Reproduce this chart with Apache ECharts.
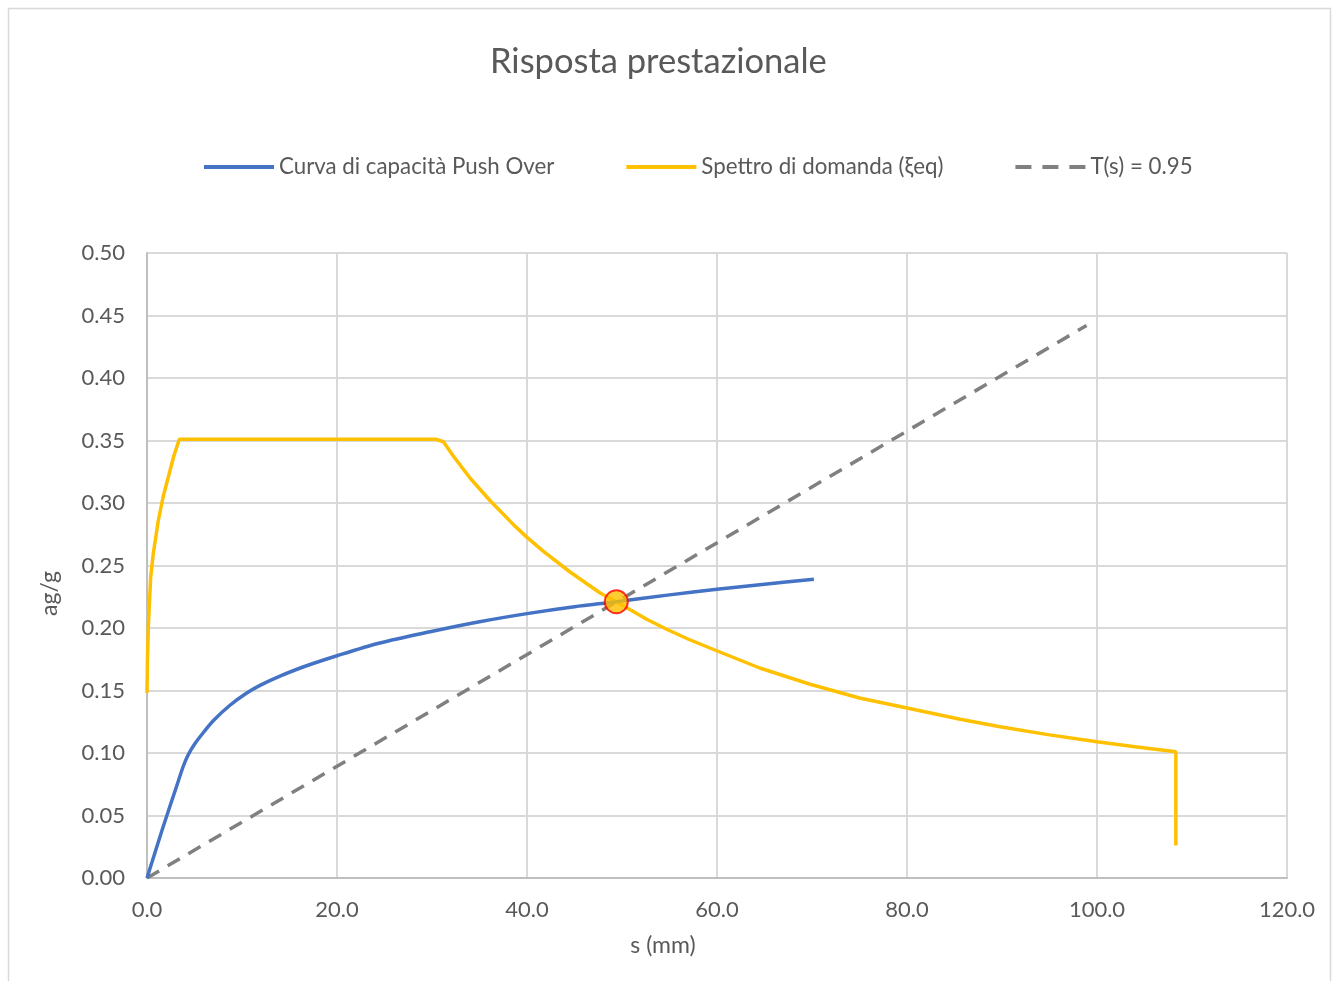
<!DOCTYPE html>
<html>
<head>
<meta charset="utf-8">
<style>
  html, body { margin: 0; padding: 0; background: #ffffff; }
  #chart { width: 1336px; height: 981px; }
</style>
<script src="https://cdn.jsdelivr.net/npm/echarts@6/dist/echarts.min.js"></script>
</head>
<body>
<div id="chart"></div>
<script>
// Capacity curve (push-over): [s (mm), ag/g]
const pushOver = [
  [0, 0], [1.7, 0.041], [3.1, 0.073], [3.8, 0.089], [4.3, 0.098], [5.0, 0.107],
  [6.0, 0.117], [7.0, 0.126], [8.7, 0.138], [10.5, 0.148], [12.0, 0.1545],
  [14.0, 0.1615], [16.5, 0.169], [20.0, 0.1778], [24.5, 0.188], [29.8, 0.197],
  [35.0, 0.205], [40.0, 0.2115], [45.0, 0.217], [49.4, 0.221], [55.0, 0.2265],
  [60.0, 0.231], [65.0, 0.235], [70.2, 0.239]
];

// Demand spectrum (ADRS, equivalent damping): [s (mm), ag/g]
const spettro = [
  [0, 0.148], [0.05, 0.175], [0.14, 0.201], [0.39, 0.241], [0.67, 0.260],
  [1.19, 0.286], [1.7, 0.305], [2.25, 0.321], [2.8, 0.337], [3.4, 0.351],
  [30.4, 0.351], [31.2, 0.349], [32.2, 0.338], [34.0, 0.320], [36.1, 0.302],
  [38.6, 0.2825], [40.0, 0.2725], [41.7, 0.2615], [44.5, 0.245], [47.7, 0.228],
  [49.4, 0.221], [52.6, 0.207], [54.7, 0.199], [57.0, 0.191], [59.9, 0.182],
  [64.5, 0.168], [69.8, 0.155], [75.0, 0.144], [80.0, 0.136], [85.6, 0.127],
  [89.8, 0.121], [95.0, 0.1145], [100.0, 0.109], [104.0, 0.105], [108.3, 0.101],
  [108.3, 0.026]
];

// Period line T = 0.95 s
const periodo = [[0, 0], [98.9, 0.442]];

// Performance point
const puntoPrestazione = [[49.4, 0.221]];

const xTicks = { min: 0, max: 120, interval: 20 };
const yTicks = { min: 0, max: 0.5, interval: 0.05 };

const seriesNames = ['Curva di capacità Push Over', 'Spettro di domanda (ξeq)', 'T(s) = 0.95'];

const FONT = 'Lato, "Open Sans", sans-serif';
const TEXT = '#595959';

// legend keys: solid bar for the curves, three dashes for the period line
const ICON_SOLID = 'path://M0,0h70v4h-70z';
const ICON_DASHED = 'path://M0,0h16v4h-16z M27,0h16v4h-16z M54,0h16v4h-16z';

const chart = echarts.init(document.getElementById('chart'), null, { renderer: 'canvas' });

chart.setOption({
  backgroundColor: '#ffffff',
  animation: false,
  textStyle: { fontFamily: FONT, color: TEXT },
  graphic: [{
    type: 'rect',
    shape: { x: 8.5, y: 8.5, width: 1322, height: 1000 },
    style: { fill: 'none', stroke: '#d9d9d9', lineWidth: 1.5 },
    silent: true
  }],
  title: {
    text: 'Risposta prestazionale',
    left: 485,
    top: 39,
    textStyle: { fontFamily: FONT, fontSize: 34.5, fontWeight: 'normal', color: TEXT }
  },
  legend: {
    data: [
      { name: seriesNames[0], icon: ICON_SOLID },
      { name: seriesNames[1], icon: ICON_SOLID },
      { name: seriesNames[2], icon: ICON_DASHED }
    ],
    top: 151,
    left: 199,
    itemWidth: 70,
    itemHeight: 4,
    itemGap: 72,
    textStyle: { fontFamily: FONT, fontSize: 22.3, color: TEXT }
  },
  grid: { left: 147, right: 49, top: 253, bottom: 103, containLabel: false },
  xAxis: {
    type: 'value',
    min: xTicks.min, max: xTicks.max, interval: xTicks.interval,
    name: 's (mm)',
    nameLocation: 'middle',
    nameGap: 56,
    nameTextStyle: { fontFamily: FONT, fontSize: 23, color: TEXT, padding: [0, 108, 0, 0] },
    axisLine: { show: true, lineStyle: { color: '#bfbfbf', width: 2 } },
    axisTick: { show: false },
    splitLine: { show: true, lineStyle: { color: '#d9d9d9', width: 2 } },
    axisLabel: {
      fontFamily: FONT, fontSize: 22, color: TEXT, margin: 21,
      formatter: v => v.toFixed(1)
    }
  },
  yAxis: {
    type: 'value',
    min: yTicks.min, max: yTicks.max, interval: yTicks.interval,
    name: 'ag/g',
    nameLocation: 'middle',
    nameGap: 86,
    nameTextStyle: { fontFamily: FONT, fontSize: 23, color: TEXT, padding: [0, 56, 0, 0] },
    axisLine: { show: true, lineStyle: { color: '#bfbfbf', width: 2 } },
    axisTick: { show: false },
    splitLine: { show: true, lineStyle: { color: '#d9d9d9', width: 2 } },
    axisLabel: {
      fontFamily: FONT, fontSize: 22, color: TEXT, margin: 22,
      formatter: v => v.toFixed(2)
    }
  },
  series: [
    {
      name: seriesNames[0],
      type: 'line',
      data: pushOver,
      smooth: 0.3,
      symbol: 'none',
      lineStyle: { color: '#4472c4', width: 3.5 },
      itemStyle: { color: '#4472c4' },
      z: 3
    },
    {
      name: seriesNames[1],
      type: 'line',
      data: spettro,
      symbol: 'none',
      lineStyle: { color: '#ffc000', width: 3.5 },
      itemStyle: { color: '#ffc000' },
      z: 2
    },
    {
      name: seriesNames[2],
      type: 'line',
      data: periodo,
      symbol: 'none',
      lineStyle: { color: '#808080', width: 3.5, type: [14, 10] },
      itemStyle: { color: '#808080' },
      z: 1
    },
    {
      name: 'Punto di prestazione',
      type: 'scatter',
      data: puntoPrestazione,
      symbol: 'circle',
      symbolSize: 23,
      itemStyle: { color: '#ffc000', borderColor: '#ff0000', borderWidth: 2 },
      z: 5
    }
  ]
});
</script>
</body>
</html>
